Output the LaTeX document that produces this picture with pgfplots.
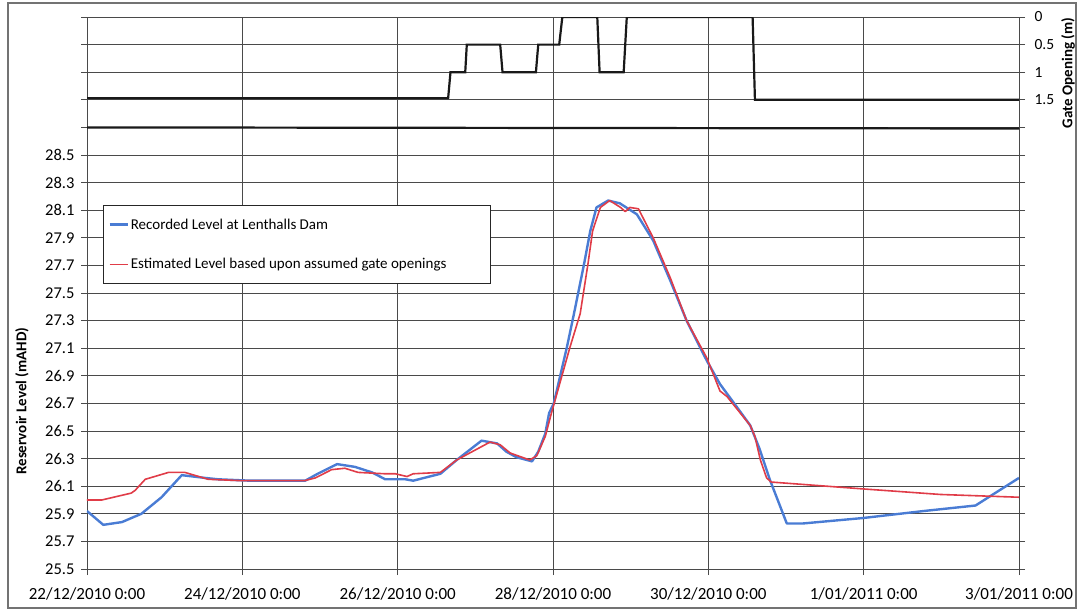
\documentclass[border=0pt]{standalone}
\usepackage{fontspec}
\setmainfont{Carlito}
\usepackage{pgfplots}
\pgfplotsset{compat=1.18}
\definecolor{recblue}{HTML}{4A7CD4}
\definecolor{estred}{HTML}{E03C48}
\definecolor{gridc}{HTML}{4A4A4A}

\begin{document}
\begin{tikzpicture}
\useasboundingbox (0pt,0pt) rectangle (1082pt,613pt);
\begin{axis}[
  at={(87pt,44pt)}, anchor=south west,
  scale only axis, width=932pt, height=552pt,
  xmin=0, xmax=12, ymin=25.5, ymax=29.5,
  xtick={0,2,4,6,8,10,12},
  xticklabels={22/12/2010 0:00,24/12/2010 0:00,26/12/2010 0:00,28/12/2010 0:00,30/12/2010 0:00,1/01/2011 0:00,3/01/2011 0:00},
  ytick={25.5,25.7,25.9,26.1,26.3,26.5,26.7,26.9,27.1,27.3,27.5,27.7,27.9,28.1,28.3,28.5,28.7,28.9,29.1,29.3,29.5},
  yticklabels={25.5,25.7,25.9,26.1,26.3,26.5,26.7,26.9,27.1,27.3,27.5,27.7,27.9,28.1,28.3,28.5,{},{},{},{},{}},
  /pgf/number format/assume math mode=true,
  grid=major,
  major grid style={gridc, line width=0.8pt},
  axis line style={gridc, line width=0.8pt},
  tick style={gridc, line width=0.8pt},
  tick align=outside, major tick length=6pt,
  xtick pos=lower, ytick pos=left,
  ticklabel style={font=\fontsize{16.5}{16.5}\selectfont, text=black},
  xticklabel style={font=\fontsize{17}{17}\selectfont, yshift=-9pt},
  yticklabel style={xshift=-3pt},
  every axis y label/.style={at={(axis description cs:-0.0697,0.304)}, anchor=center, rotate=90, font=\bfseries\fontsize{15}{15}\selectfont},
  ylabel={Reservoir Level (mAHD)},
  legend cell align=left,
  legend image code/.code={\draw[#1] (0pt,0pt) -- (18pt,0pt);},
  legend style={at={(axis description cs:0.0172,0.659)}, anchor=north west,
    draw=black!85, line width=0.8pt, fill=white,
    font=\fontsize{15}{15}\selectfont,
    inner xsep=5pt, inner ysep=11pt, row sep=24pt,
    nodes={inner sep=2pt}},
]
\addplot[recblue, line width=2.4pt, line join=round] coordinates {
(0,25.92) (0.21,25.82) (0.45,25.84) (0.70,25.90) (0.96,26.02) (1.22,26.18)
(1.52,26.16) (1.69,26.15) (2.10,26.14) (2.81,26.14) (2.97,26.19) (3.22,26.26)
(3.45,26.24) (3.67,26.20) (3.84,26.15) (4.10,26.15) (4.20,26.14) (4.55,26.19)
(4.76,26.29) (5.08,26.43) (5.28,26.41) (5.40,26.35) (5.53,26.31) (5.73,26.28)
(5.81,26.35) (5.90,26.48) (5.95,26.63) (6.01,26.70) (6.18,27.11) (6.27,27.35)
(6.40,27.71) (6.48,27.95) (6.56,28.12) (6.71,28.17) (6.86,28.15) (7.08,28.07)
(7.29,27.88) (7.51,27.59) (7.72,27.30) (7.98,27.01) (8.15,26.84) (8.32,26.71)
(8.54,26.54) (8.66,26.37) (8.79,26.15) (9.01,25.83) (9.22,25.83) (10.0,25.87)
(10.77,25.92) (11.44,25.96) (12.0,26.16)
};
\addlegendentry{Recorded Level at Lenthalls Dam}
\addplot[estred, line width=1.6pt, line join=round] coordinates {
(0,26.00) (0.19,26.00) (0.57,26.05) (0.62,26.07) (0.75,26.15) (1.05,26.20)
(1.26,26.20) (1.56,26.15) (2.0,26.14) (2.8,26.14) (2.94,26.16) (3.15,26.22)
(3.32,26.23) (3.49,26.20) (3.84,26.19) (3.97,26.19) (4.12,26.17) (4.20,26.19)
(4.55,26.20) (4.76,26.29) (5.19,26.42) (5.32,26.40) (5.45,26.34) (5.70,26.29)
(5.79,26.32) (5.90,26.46) (5.98,26.63) (6.22,27.11) (6.35,27.35) (6.45,27.71)
(6.51,27.95) (6.61,28.12) (6.73,28.17) (6.87,28.12) (6.93,28.09) (6.99,28.12)
(7.10,28.11) (7.29,27.90) (7.51,27.61) (7.72,27.30) (7.98,27.03) (8.15,26.79)
(8.24,26.75) (8.54,26.54) (8.60,26.46) (8.67,26.29) (8.75,26.16) (8.81,26.13)
(10.0,26.08) (10.99,26.04) (12.0,26.02)
};
\addlegendentry{Estimated Level based upon assumed gate openings\rule{37pt}{0pt}}
\end{axis}
\begin{axis}[
  at={(87pt,44pt)}, anchor=south west,
  scale only axis, width=932pt, height=552pt,
  xmin=0, xmax=12, ymin=0, ymax=10, y dir=reverse,
  axis x line=none, axis y line*=right,
  axis line style={gridc, line width=0.8pt},
  tick style={gridc, line width=0.8pt},
  tick align=outside, major tick length=6pt,
  ytick={0,0.5,1,1.5,2,2.5,3,3.5,4,4.5,5,5.5,6,6.5,7,7.5,8,8.5,9,9.5,10},
  yticklabels={0,0.5,1,1.5,{},{},{},{},{},{},{},{},{},{},{},{},{},{},{},{},{}},
  /pgf/number format/assume math mode=true,
  ticklabel style={font=\fontsize{15.5}{15.5}\selectfont, text=black},
  yticklabel style={xshift=6pt},
  every axis y label/.style={at={(axis description cs:1.0526,0.8986)}, anchor=center, rotate=90, font=\bfseries\fontsize{15}{15}\selectfont},
  ylabel={Gate Opening (m)},
]
\addplot[black!90, line width=2.2pt] coordinates {
(0,1.47) (4.65,1.47) (4.68,1.0) (4.87,1.0) (4.89,0.5) (5.32,0.5) (5.35,1.0)
(5.78,1.0) (5.81,0.5) (6.08,0.5) (6.12,0) (6.57,0) (6.60,1.0) (6.91,1.0)
(6.95,0) (8.57,0) (8.60,1.5) (12,1.5)
};
\addplot[black!90, line width=2.2pt] coordinates {(0,2.0) (12,2.02)};
\end{axis}
\draw[black!55, line width=1.4pt] (8pt,5pt) rectangle (1076pt,610pt);
\end{tikzpicture}
\end{document}
